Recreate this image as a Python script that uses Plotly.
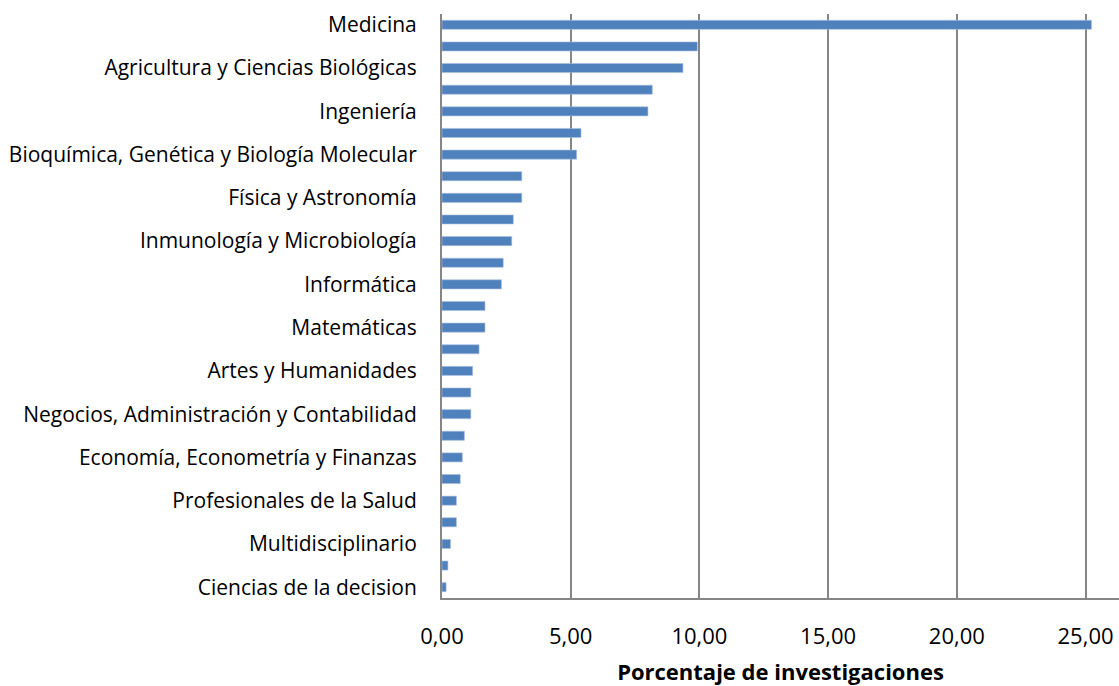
import plotly.graph_objects as go

categories = [
    "Medicina", "Ciencias Ambientales", "Agricultura y Ciencias Biológicas",
    "Ciencias Sociales", "Ingeniería", "Química",
    "Bioquímica, Genética y Biología Molecular", "Ciencias de la Tierra y Planetarias",
    "Física y Astronomía", "Farmacología, Toxicología y Farmacéutica",
    "Inmunología y Microbiología", "Ciencia de Materiales", "Informática",
    "Veterinaria", "Matemáticas", "Ingeniería Química", "Artes y Humanidades",
    "Neurociencia", "Negocios, Administración y Contabilidad", "Energía",
    "Economía, Econometría y Finanzas", "Psicología", "Profesionales de la Salud",
    "Enfermería", "Multidisciplinario", "Odontología", "Ciencias de la decision",
]
values = [25.23, 9.92, 9.36, 8.17, 8.00, 5.40, 5.23, 3.10, 3.10, 2.77, 2.71,
          2.38, 2.31, 1.67, 1.67, 1.44, 1.19, 1.12, 1.12, 0.87, 0.79, 0.71,
          0.56, 0.56, 0.33, 0.23, 0.16]
shown_labels = categories[::2]
x_ticks = [0, 5, 10, 15, 20, 25]
x_tick_text = ["0,00", "5,00", "10,00", "15,00", "20,00", "25,00"]

fig = go.Figure(go.Bar(
    x=values, y=categories, orientation="h",
    marker=dict(color="#4F81BD", line=dict(color="#A9C0E0", width=0.6)),
    hoverinfo="skip",
))

font_family = "Open Sans, Noto Sans, sans-serif"
fig.update_layout(
    width=1119, height=686,
    margin=dict(l=442, r=0, t=14, b=88),
    paper_bgcolor="white", plot_bgcolor="white",
    bargap=0.58,
    showlegend=False,
    font=dict(family=font_family, size=21, color="#000000"),
)
fig.update_xaxes(
    range=[0, 26.3], tickvals=x_ticks, ticktext=x_tick_text,
    showgrid=True, gridcolor="#868686", gridwidth=2,
    zeroline=False, showline=True, linecolor="#868686", linewidth=2,
    ticks="", ticklabelstandoff=18, automargin=False,
    tickfont=dict(size=22, family=font_family),
    title=dict(text="<b>Porcentaje de investigaciones</b>",
               font=dict(size=22, family=font_family), standoff=17),
)
fig.update_yaxes(
    autorange="reversed", tickvals=shown_labels, ticktext=shown_labels,
    showgrid=False, showline=True, linecolor="#868686", linewidth=2,
    ticks="", ticklabelstandoff=19, automargin=False,
    tickfont=dict(size=21, family=font_family),
)
fig.write_html(
    "out.html",
    config={"displayModeBar": False},
    post_script="document.body.style.margin='0';document.body.style.overflow='hidden';",
)
